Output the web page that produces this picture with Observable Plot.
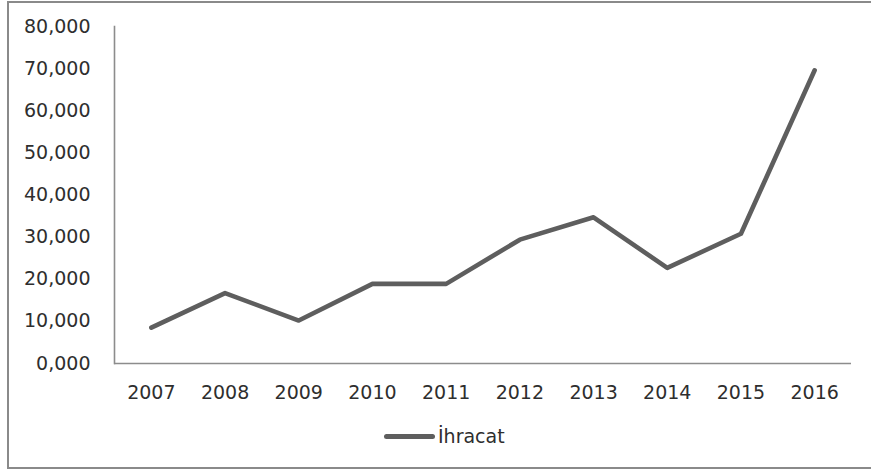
<!DOCTYPE html>
<html>
<head>
<meta charset="utf-8">
<script src="https://cdn.jsdelivr.net/npm/d3@7"></script>
<script src="https://cdn.jsdelivr.net/npm/@observablehq/plot@0.6"></script>
<style>
  html, body { margin: 0; padding: 0; background: #fff; overflow: hidden; }
  body { width: 871px; height: 470px; position: relative; font-family: "DejaVu Sans", sans-serif; }
  #frame { position: absolute; left: 7px; top: 1px; width: 900px; height: 464px; border: 2px solid #8a8a8a; box-sizing: content-box; }
  #chart { position: absolute; left: 0; top: 0; }
  #legend { position: absolute; left: 384px; top: 424px; height: 24px; display: flex; align-items: center; font-size: 19px; color: #2e2e2e; }
  #legend .swatch { width: 51px; height: 5px; background: #5e5e5e; border-radius: 3px; margin-right: 3px; }
</style>
</head>
<body>
<div id="frame"></div>
<div id="chart"></div>
<div id="legend"><span class="swatch"></span><span id="legend-label"></span></div>
<script>
// Export volume by year
const years = ["2007", "2008", "2009", "2010", "2011", "2012", "2013", "2014", "2015", "2016"];
const exports = [8500, 16700, 10200, 18900, 18900, 29400, 34700, 22700, 30800, 69600];
const seriesName = "İhracat";
const yTicks = [0, 10000, 20000, 30000, 40000, 50000, 60000, 70000, 80000];
const yTickLabels = ["0,000", "10,000", "20,000", "30,000", "40,000", "50,000", "60,000", "70,000", "80,000"];

const data = years.map((year, i) => ({year, value: exports[i]}));

const W = 871, H = 410;
const mL = 114, mR = 20, mT = 26, mB = 47;

const chart = Plot.plot({
  width: W,
  height: H,
  marginLeft: mL,
  marginRight: mR,
  marginTop: mT,
  marginBottom: mB,
  style: {fontFamily: "DejaVu Sans, sans-serif", fontSize: "19px", color: "#2e2e2e", background: "transparent", overflow: "visible"},
  x: {type: "point", domain: years, padding: 0.5, round: false, label: null},
  y: {domain: [0, 80000], label: null},
  marks: [
    Plot.axisY({ticks: yTicks, tickSize: 0, tickPadding: 24, tickFormat: d => yTickLabels[yTicks.indexOf(d)], label: null, fontSize: 19}),
    Plot.axisX({tickSize: 0, tickPadding: 22, label: null, fontSize: 19}),
    Plot.frame({anchor: "left", stroke: "#8c8c8c", strokeWidth: 1.6}),
    Plot.ruleY([0], {stroke: "#8c8c8c", strokeWidth: 1.6}),
    Plot.line(data, {x: "year", y: "value", stroke: "#5e5e5e", strokeWidth: 4.6, strokeLinejoin: "round", strokeLinecap: "round"})
  ]
});

document.getElementById("chart").appendChild(chart);
document.getElementById("legend-label").textContent = seriesName;
</script>
</body>
</html>
